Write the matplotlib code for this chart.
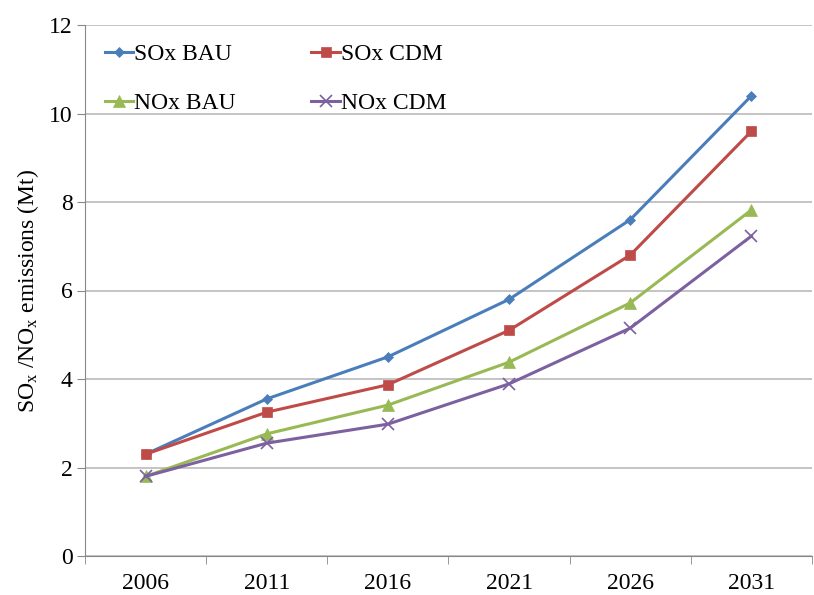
import matplotlib
matplotlib.use("Agg")
import matplotlib.pyplot as plt

years = ["2006", "2011", "2016", "2021", "2026", "2031"]
sox_bau = [2.3, 3.55, 4.5, 5.8, 7.6, 10.4]
sox_cdm = [2.3, 3.25, 3.87, 5.1, 6.8, 9.6]
nox_bau = [1.8, 2.76, 3.41, 4.38, 5.72, 7.82]
nox_cdm = [1.8, 2.55, 2.98, 3.89, 5.15, 7.23]

plt.rcParams["font.family"] = ["Liberation Serif", "DejaVu Serif"]
plt.rcParams["mathtext.fontset"] = "custom"
plt.rcParams["mathtext.rm"] = "Liberation Serif"
plt.rcParams["mathtext.it"] = "Liberation Serif:italic"

FS = 17
fig = plt.figure(figsize=(8.14, 5.95), dpi=100)
ax = fig.add_axes([85 / 814, 1 - 556 / 595, (812 - 85) / 814, (556 - 25) / 595])

x = list(range(len(years)))
series = [
    ("SOx BAU", sox_bau, "#4A7EBB", "D", 5),
    ("SOx CDM", sox_cdm, "#BE4B48", "s", 7),
    ("NOx BAU", nox_bau, "#98B954", "^", 8),
    ("NOx CDM", nox_cdm, "#7D60A0", "x", 8),
]
lines = {}
for name, vals, col, mk, ms in series:
    ln, = ax.plot(x, vals, color=col, lw=2.2, marker=mk, markersize=ms,
                  markeredgewidth=1.2 if mk == "x" else 0.5, markeredgecolor=col,
                  label=name)
    lines[name] = ln

ax.set_xlim(-0.5, 5.37)
ax.set_ylim(0, 12)
ax.set_yticks(range(0, 13, 2))
ax.set_xticks(x)
ax.set_xticklabels(years)
ax.set_xticks([i + 0.5 for i in range(-1, 6)], minor=True)
ax.tick_params(axis="x", which="major", length=0, pad=12, labelsize=FS)
ax.tick_params(axis="x", which="minor", length=6, color="#888888", direction="out")
ax.tick_params(axis="y", length=6, color="#888888", direction="out", pad=3, labelsize=FS)
ax.yaxis.grid(True, color="#BFBFBF", lw=1.3)
ax.set_axisbelow(True)
for s in ["top", "right"]:
    ax.spines[s].set_visible(False)
for s in ["left", "bottom"]:
    ax.spines[s].set_color("#888888")

ax.set_ylabel(r"SO$_\mathrm{x}$ /NO$_\mathrm{x}$ emissions (Mt)", fontsize=FS, labelpad=6)

order = ["SOx BAU", "NOx BAU", "SOx CDM", "NOx CDM"]
ax.legend([lines[n] for n in order], order, ncol=2, loc="upper left",
          bbox_to_anchor=(-0.002, 1.005), frameon=False,
          fontsize=FS, handlelength=1.2, handletextpad=0.05, columnspacing=3.2,
          labelspacing=1.15)

fig.savefig("out.png", dpi=100)
